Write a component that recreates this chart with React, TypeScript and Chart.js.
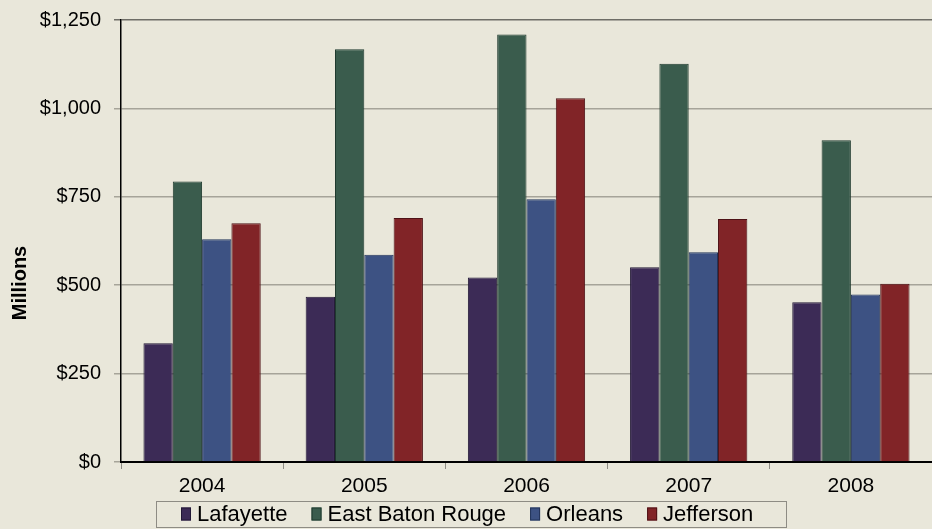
import React, { useEffect, useRef } from "react";
import { Chart, registerables } from "chart.js";

Chart.register(...registerables);

const categories = ["2004", "2005", "2006", "2007", "2008"];
const seriesNames = ["Lafayette", "East Baton Rouge", "Orleans", "Jefferson"];
const lafayette = [336, 467, 522, 551, 452];
const eastBatonRouge = [793, 1167, 1209, 1126, 910];
const orleans = [630, 586, 743, 593, 474];
const jefferson = [675, 690, 1029, 687, 504];
const yTickValues = [0, 250, 500, 750, 1000, 1250];
const yAxisTitle = "Millions";

const fills = ["#3C2B56", "#3A5C4D", "#3D5283", "#812427"];
const borders = ["#221836", "#1F3A2E", "#23345A", "#4E1216"];
const BG = "#E9E7DA";
const FONT = "'Liberation Sans', Arial, sans-serif";

const bgPlugin = {
  id: "bgFill",
  beforeDraw(chart: any) {
    const { ctx, width, height } = chart;
    ctx.save();
    ctx.fillStyle = BG;
    ctx.fillRect(0, 0, width, height);
    ctx.restore();
  },
};

const extrasPlugin = {
  id: "extras",
  afterDraw(chart: any) {
    const { ctx } = chart;
    ctx.save();
    // axis title
    ctx.translate(20, 283);
    ctx.rotate(-Math.PI / 2);
    ctx.font = `bold 20px ${FONT}`;
    ctx.fillStyle = "#000";
    ctx.textAlign = "center";
    ctx.textBaseline = "middle";
    ctx.fillText(yAxisTitle, 0, 0);
    ctx.restore();

    // legend box
    ctx.save();
    const boxL = 156, boxR = 786, boxT = 501, boxB = 527;
    ctx.strokeStyle = "#8E8C84";
    ctx.lineWidth = 1;
    ctx.strokeRect(boxL + 0.5, boxT + 0.5, boxR - boxL, boxB - boxT);
    ctx.font = `22px ${FONT}`;
    ctx.textBaseline = "middle";
    ctx.textAlign = "left";
    const ds = chart.data.datasets;
    let x = 181;
    const cy = 514;
    ds.forEach((d: any) => {
      ctx.fillStyle = d.backgroundColor;
      ctx.fillRect(x, cy - 6.5, 10, 13);
      ctx.strokeStyle = d.borderColor;
      ctx.strokeRect(x + 0.5, cy - 6, 9, 12);
      ctx.fillStyle = "#000";
      ctx.fillText(d.label, x + 16, cy + 1);
      const w = ctx.measureText(d.label).width;
      x += 16 + w + 24;
    });
    ctx.restore();
  },
};

export default function App() {
  const ref = useRef<HTMLCanvasElement | null>(null);

  useEffect(() => {
    if (!ref.current) return;
    const values = [lafayette, eastBatonRouge, orleans, jefferson];
    const chart = new Chart(ref.current, {
      type: "bar",
      data: {
        labels: categories,
        datasets: seriesNames.map((name, i) => ({
          label: name,
          data: values[i],
          backgroundColor: fills[i],
          borderColor: borders[i],
          borderWidth: 1,
          categoryPercentage: 0.723,
          barPercentage: 1,
        })),
      },
      options: {
        responsive: false,
        animation: false,
        events: [],
        layout: { padding: { top: 20, left: 0, right: 0, bottom: 0 } },
        plugins: {
          legend: { display: false },
          tooltip: { enabled: false },
          title: { display: false },
        },
        scales: {
          x: {
            offset: true,
            grid: {
              offset: true,
              drawOnChartArea: false,
              drawTicks: true,
              tickLength: 7,
              color: "#8E8C84",
              lineWidth: 1,
            },
            border: { color: "#000", width: 2 },
            ticks: {
              color: "#000",
              font: { family: FONT, size: 21 },
              padding: 5,
              maxRotation: 0,
            },
            afterFit(scale: any) {
              scale.height = 67;
              scale.paddingLeft = 0;
              scale.paddingRight = 0;
            },
          },
          y: {
            min: 0,
            max: 1250,
            afterBuildTicks(scale: any) {
              scale.ticks = yTickValues.map((v) => ({ value: v }));
            },
            grid: {
              color: (c: any) => (c.tick && c.tick.value === 1250 ? "#6E6D66" : "#A6A499"),
              lineWidth: 1.5,
              drawTicks: true,
              tickLength: 7,
            },
            border: { color: "#000", width: 1.5 },
            ticks: {
              color: "#000",
              font: { family: FONT, size: 20 },
              padding: 13,
              callback: (v: any) => "$" + Number(v).toLocaleString("en-US"),
            },
            afterFit(scale: any) {
              scale.width = 121;
              scale.paddingTop = 0;
              scale.paddingBottom = 0;
            },
          },
        },
      },
      plugins: [bgPlugin, extrasPlugin],
    });
    return () => chart.destroy();
  }, []);

  return (
    <div style={{ position: "fixed", left: 0, top: 0, width: 932, height: 529, background: BG }}>
      <canvas ref={ref} width={932} height={529} style={{ display: "block" }} />
    </div>
  );
}
